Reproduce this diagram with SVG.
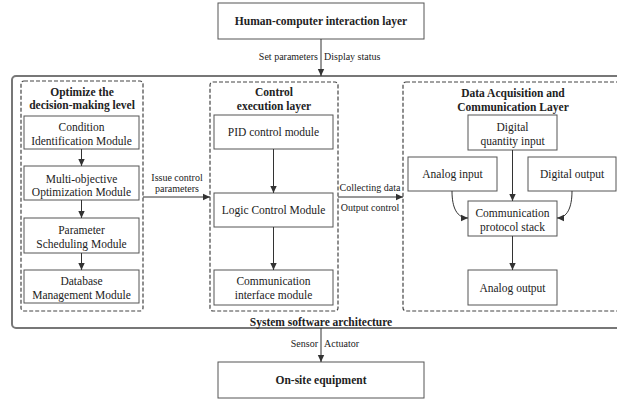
<svg xmlns="http://www.w3.org/2000/svg" width="617" height="400" viewBox="0 0 617 400">
<defs>
<marker id="ah" markerWidth="8" markerHeight="8" refX="7" refY="4" orient="auto" markerUnits="userSpaceOnUse">
<path d="M0,0.8 L7,4 L0,7.2 Z" fill="#333"/>
</marker>
<style>
text{font-family:"Liberation Serif","Times New Roman",serif;fill:#222;text-anchor:middle}
.t{font-size:11.5px}
.b{font-size:11.5px;font-weight:bold}
.s{font-size:10px}
.box{fill:#fff;stroke:#555;stroke-width:1}
.dash{fill:none;stroke:#444;stroke-width:1.2;stroke-dasharray:4 2}
.ln{fill:none;stroke:#333;stroke-width:1;marker-end:url(#ah)}
</style>
</defs>
<rect width="617" height="400" fill="#fff"/>
<g id="outer">
<rect x="12" y="76" width="630" height="252" rx="4" fill="none" stroke="#777" stroke-width="2"/>
<text class="b" x="321" y="326">System software architecture</text>
</g>
<g id="hci">
<rect class="box" x="218" y="3" width="206" height="36"/>
<text class="b" x="321" y="25">Human-computer interaction layer</text>
</g>
<g id="onsite">
<rect class="box" x="218" y="362" width="206" height="36"/>
<text class="b" x="321" y="384">On-site equipment</text>
</g>
<g id="opt-layer">
<rect class="dash" x="21" y="81" width="122" height="230" rx="3"/>
<text class="b" x="82" y="96">Optimize the</text>
<text class="b" x="82" y="109">decision-making level</text>
</g>
<g id="cond">
<rect class="box" x="24" y="116" width="115" height="33"/>
<text class="t" x="81.5" y="131">Condition</text>
<text class="t" x="81.5" y="145">Identification Module</text>
</g>
<g id="multi">
<rect class="box" x="24" y="166" width="115" height="34"/>
<text class="t" x="81.5" y="183">Multi-objective</text>
<text class="t" x="81.5" y="196">Optimization Module</text>
</g>
<g id="param">
<rect class="box" x="24" y="218" width="115" height="35"/>
<text class="t" x="81.5" y="234">Parameter</text>
<text class="t" x="81.5" y="248">Scheduling Module</text>
</g>
<g id="db">
<rect class="box" x="24" y="270" width="115" height="33"/>
<text class="t" x="81.5" y="285">Database</text>
<text class="t" x="81.5" y="299">Management Module</text>
</g>
<g id="ctrl-layer">
<rect class="dash" x="210" y="82" width="128" height="229" rx="3"/>
<text class="b" x="274" y="96">Control</text>
<text class="b" x="274" y="110">execution layer</text>
</g>
<g id="pid">
<rect class="box" x="214" y="115" width="119" height="34"/>
<text class="t" x="273.5" y="136">PID control module</text>
</g>
<g id="logic">
<rect class="box" x="214" y="193" width="119" height="34"/>
<text class="t" x="273.5" y="214">Logic Control Module</text>
</g>
<g id="commif">
<rect class="box" x="214" y="270" width="119" height="35"/>
<text class="t" x="273.5" y="285">Communication</text>
<text class="t" x="273.5" y="299">interface module</text>
</g>
<g id="daq-layer">
<rect class="dash" x="403" y="82" width="240" height="229" rx="3"/>
<text class="b" x="513" y="97">Data Acquisition and</text>
<text class="b" x="513" y="111">Communication Layer</text>
</g>
<g id="dqi">
<rect class="box" x="468" y="115" width="89" height="35"/>
<text class="t" x="512.5" y="131">Digital</text>
<text class="t" x="512.5" y="145">quantity input</text>
</g>
<g id="ai">
<rect class="box" x="408" y="157" width="89" height="34"/>
<text class="t" x="452.5" y="178">Analog input</text>
</g>
<g id="do">
<rect class="box" x="528" y="157" width="88" height="34"/>
<text class="t" x="572" y="178">Digital output</text>
</g>
<g id="cps">
<rect class="box" x="468" y="201" width="89" height="35"/>
<text class="t" x="512.5" y="217">Communication</text>
<text class="t" x="512.5" y="231">protocol stack</text>
</g>
<g id="ao">
<rect class="box" x="468" y="270" width="89" height="35"/>
<text class="t" x="512.5" y="292">Analog output</text>
</g>
<g id="connectors">
<path class="ln" d="M321,39 V76"/>
<text class="s" x="318" y="60" style="text-anchor:end">Set parameters</text>
<text class="s" x="324" y="60" style="text-anchor:start">Display status</text>
<path class="ln" d="M321,328 V362"/>
<text class="s" x="318" y="347" style="text-anchor:end">Sensor</text>
<text class="s" x="324" y="347" style="text-anchor:start">Actuator</text>
<path class="ln" d="M81.5,149 V166"/>
<path class="ln" d="M81.5,200 V218"/>
<path class="ln" d="M81.5,253 V270"/>
<path class="ln" d="M143,197 H210"/>
<text class="s" x="177" y="181">Issue control</text>
<text class="s" x="177" y="192">parameters</text>
<path class="ln" d="M273.5,149 V193"/>
<path class="ln" d="M273.5,227 V270"/>
<path class="ln" d="M338,197 H403"/>
<text class="s" x="370" y="191">Collecting data</text>
<text class="s" x="370" y="211">Output control</text>
<path class="ln" d="M512.5,150 V201"/>
<path class="ln" d="M512.5,236 V270"/>
<path class="ln" d="M452,191 C452,208 457,218 468,218"/>
<path class="ln" d="M572,191 C572,208 567,218 557,218"/>
</g>
</svg>
